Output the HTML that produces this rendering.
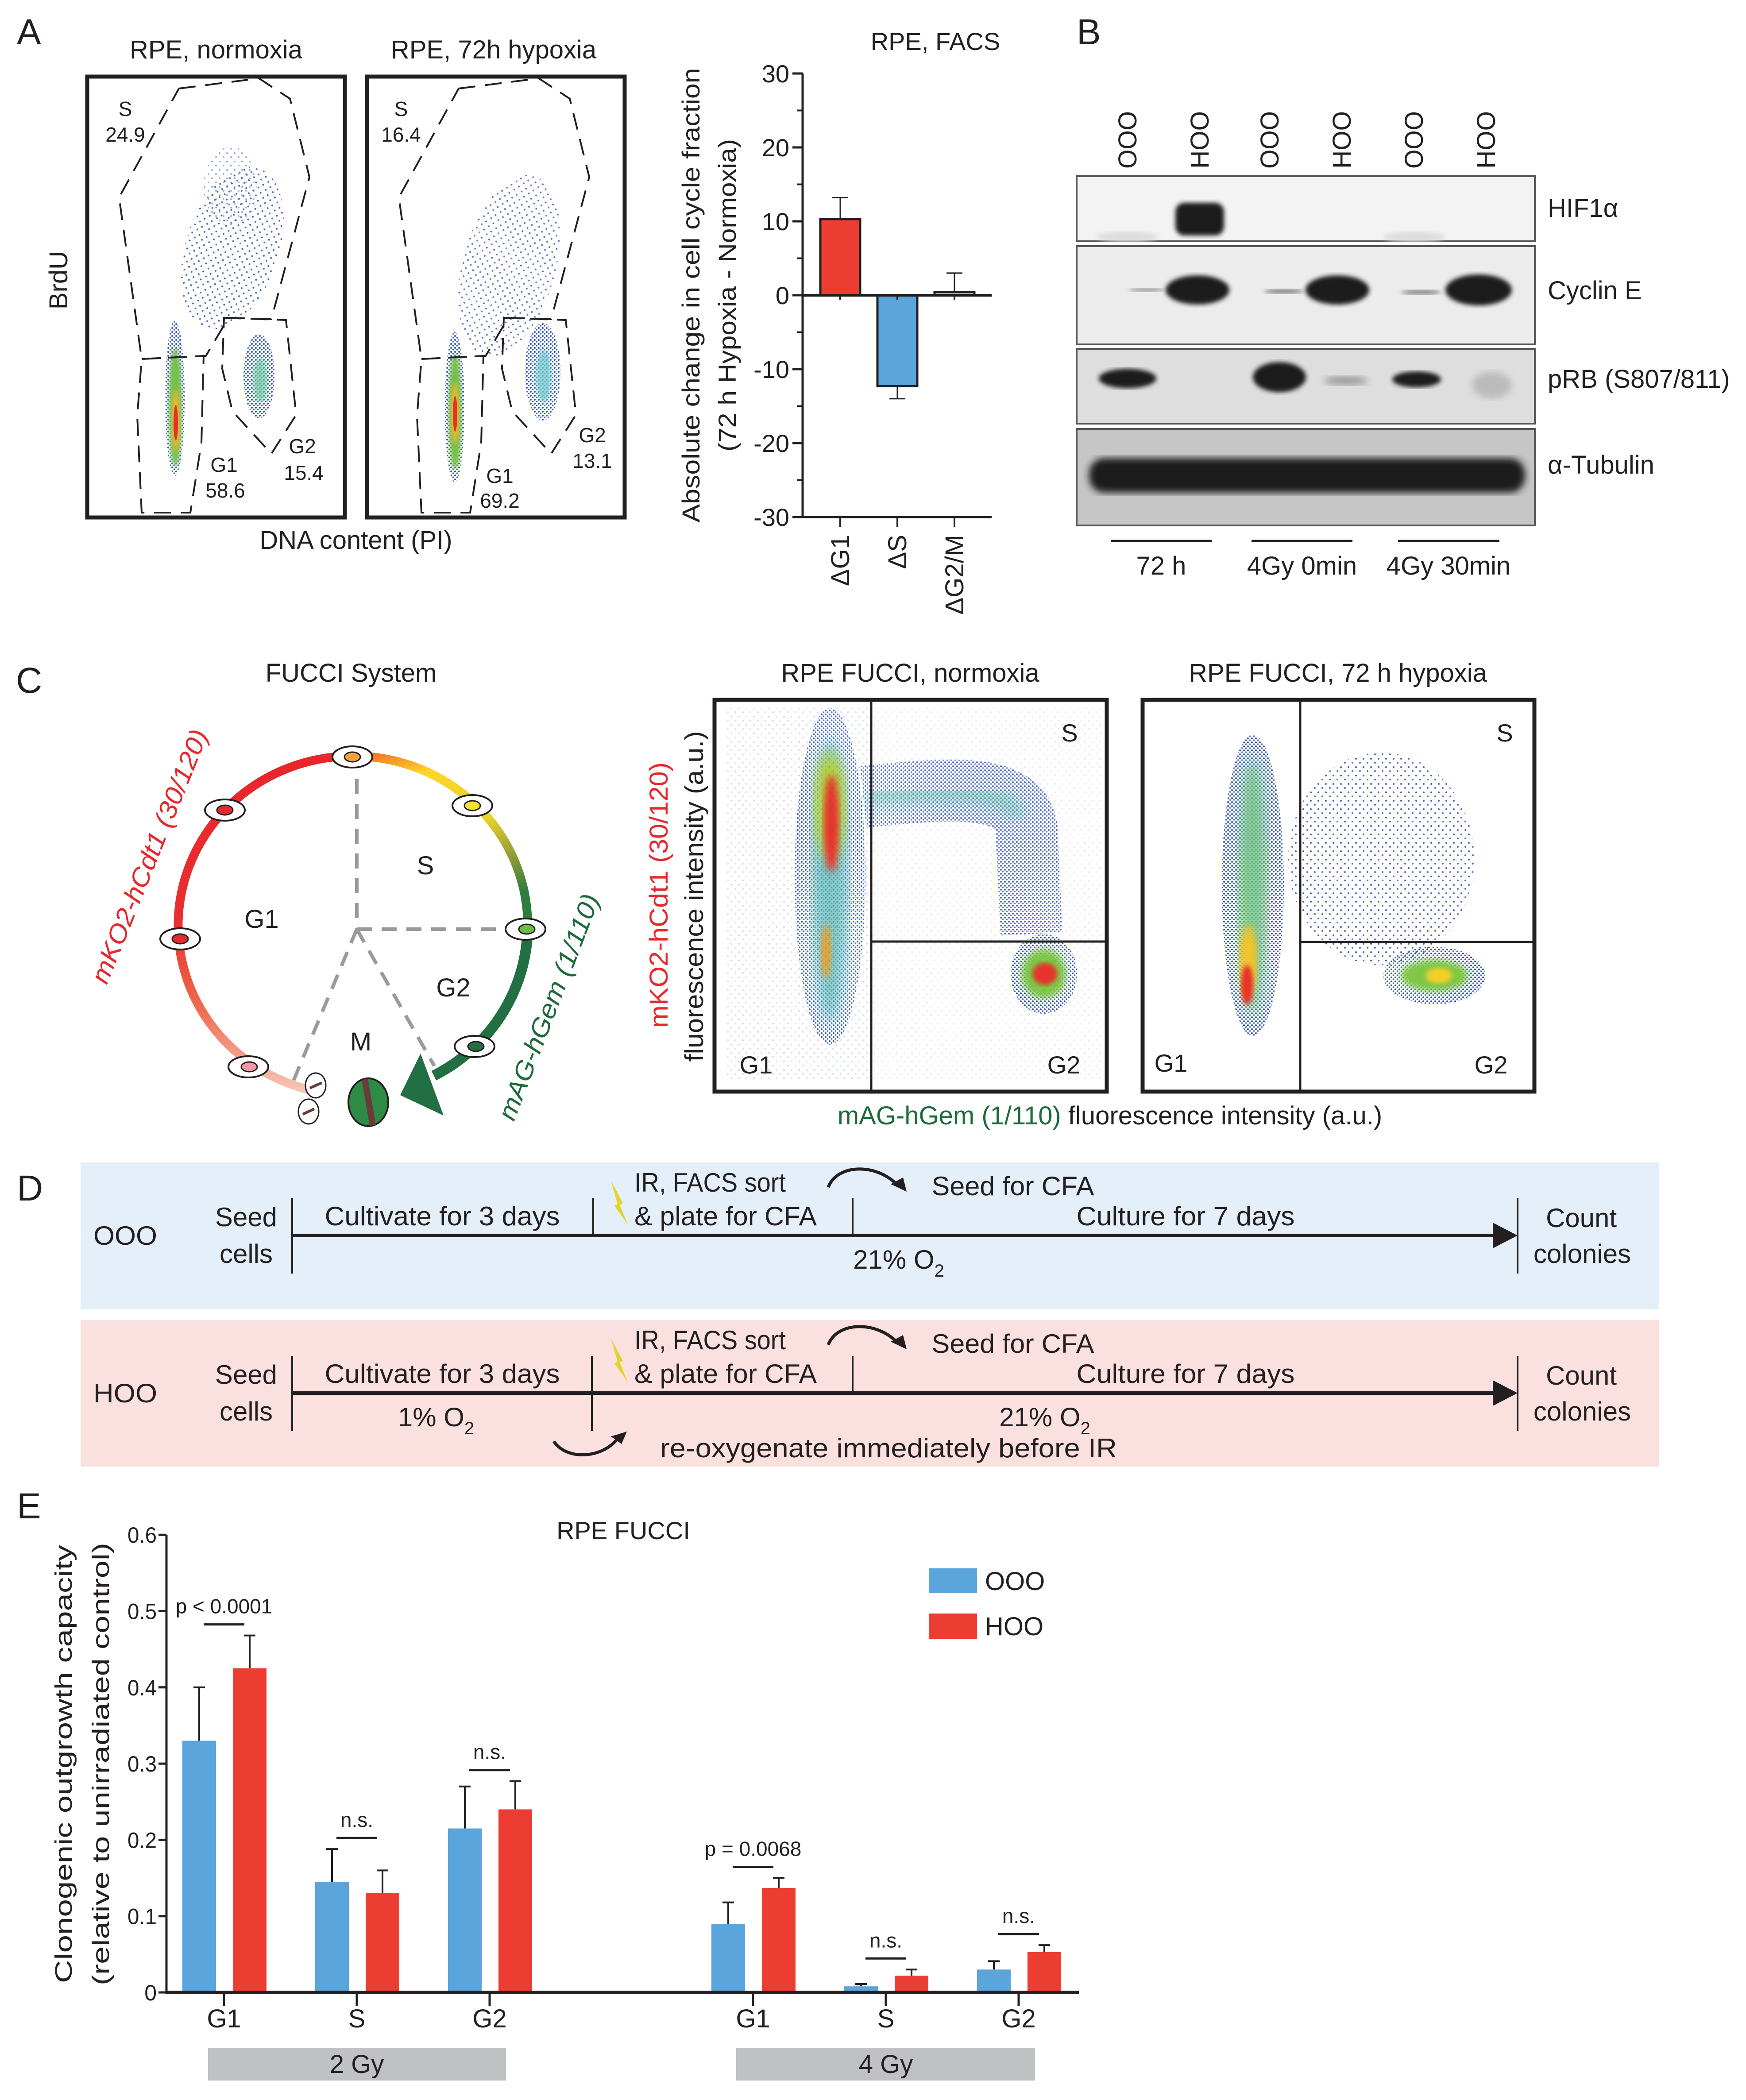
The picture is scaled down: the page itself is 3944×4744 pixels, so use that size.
<!DOCTYPE html>
<html><head><meta charset="utf-8"><title>Figure</title>
<style>
html,body{margin:0;padding:0;background:#fff;}
svg{display:block;font-family:"Liberation Sans",sans-serif;}
text{fill:#231f20;}
</style></head>
<body>
<svg id="fig" width="3944" height="4744" viewBox="0 0 3944 4744" xmlns="http://www.w3.org/2000/svg">
<defs>
<pattern id="dots" width="9" height="9" patternUnits="userSpaceOnUse"><circle cx="2" cy="3" r="2" fill="#2e4fae"/><circle cx="6.5" cy="7" r="1.8" fill="#3a5fc0"/></pattern>
<pattern id="sparse" width="17" height="19" patternUnits="userSpaceOnUse"><circle cx="3" cy="4" r="2" fill="#2e4fae"/><circle cx="12" cy="13" r="2" fill="#3a5fc0"/></pattern>
<filter id="b8"><feGaussianBlur stdDeviation="8"/></filter>
<filter id="b15"><feGaussianBlur stdDeviation="15"/></filter>
<filter id="b5"><feGaussianBlur stdDeviation="5"/></filter>
<linearGradient id="gRed" x1="0" y1="1" x2="0" y2="0"><stop offset="0" stop-color="#f6c6b6"/><stop offset="0.25" stop-color="#ef6a4e"/><stop offset="0.5" stop-color="#e8302f"/><stop offset="1" stop-color="#e8262b"/></linearGradient>
<linearGradient id="gYel" x1="0" y1="0" x2="0.3" y2="1"><stop offset="0" stop-color="#f26a2a"/><stop offset="0.2" stop-color="#fcd626"/><stop offset="0.55" stop-color="#e6d22c"/><stop offset="0.8" stop-color="#8c9a3a"/><stop offset="1" stop-color="#2f7d3c"/></linearGradient>
</defs>
<rect x="0" y="0" width="3944" height="4744" fill="#fff"/>

<!-- ================= Panel A scatter ================= -->
<text x="38" y="100" font-size="82">A</text>
<text x="488" y="132" font-size="58" text-anchor="middle">RPE, normoxia</text>
<text x="1115" y="132" font-size="58" text-anchor="middle">RPE, 72h hypoxia</text>
<text transform="translate(152,633) rotate(-90)" font-size="58" text-anchor="middle">BrdU</text>
<text x="804" y="1240" font-size="58" text-anchor="middle">DNA content (PI)</text>

<g>
  <ellipse cx="525" cy="560" rx="105" ry="190" transform="rotate(18 525 560)" fill="url(#sparse)" opacity="0.9"/>
  <ellipse cx="520" cy="420" rx="60" ry="90" fill="url(#sparse)" opacity="0.5"/>
  <ellipse cx="395" cy="900" rx="22" ry="175" fill="url(#dots)"/>
  <ellipse cx="396" cy="920" rx="15" ry="135" fill="#74c04a" filter="url(#b5)"/>
  <ellipse cx="397" cy="950" rx="9" ry="70" fill="#f0b82a" filter="url(#b5)"/>
  <ellipse cx="397" cy="955" rx="5" ry="40" fill="#e8302a"/>
  <ellipse cx="585" cy="850" rx="35" ry="95" fill="url(#dots)"/>
  <ellipse cx="588" cy="860" rx="16" ry="50" fill="#6cc7a8" opacity="0.7" filter="url(#b5)"/>
  <g fill="none" stroke="#231f20" stroke-width="4" stroke-dasharray="38,22">
    <polygon points="404,200 585,177 655,223 699,400 613,721 516,718 465,804 320,811 269,446"/>
    <polygon points="320,811 460,804 455,1000 430,1158 320,1158 310,940"/>
    <polygon points="506,718 646,723 669,937 613,1025 525,929 502,833"/>
  </g>
  <rect x="197" y="173" width="582" height="996" fill="none" stroke="#231f20" stroke-width="9"/>
  <g font-size="46" text-anchor="middle">
    <text x="283" y="262">S</text><text x="283" y="320">24.9</text>
    <text x="506" y="1066">G1</text><text x="509" y="1124">58.6</text>
    <text x="683" y="1024">G2</text><text x="686" y="1084">15.4</text>
  </g>
</g>
<g>
  <ellipse cx="1150" cy="600" rx="105" ry="210" transform="rotate(15 1150 600)" fill="url(#sparse)" opacity="0.8"/>
  <ellipse cx="1027" cy="920" rx="22" ry="170" fill="url(#dots)"/>
  <ellipse cx="1028" cy="930" rx="15" ry="130" fill="#74c04a" filter="url(#b5)"/>
  <ellipse cx="1028" cy="935" rx="9" ry="70" fill="#f0b82a" filter="url(#b5)"/>
  <ellipse cx="1028" cy="935" rx="5" ry="40" fill="#e8302a"/>
  <ellipse cx="1226" cy="840" rx="40" ry="110" fill="url(#dots)"/>
  <ellipse cx="1228" cy="850" rx="18" ry="60" fill="#6cc7d8" opacity="0.7" filter="url(#b5)"/>
  <g fill="none" stroke="#231f20" stroke-width="4" stroke-dasharray="38,22" transform="translate(632,0)">
    <polygon points="404,200 585,177 655,223 699,400 613,721 516,718 465,804 320,811 269,446"/>
    <polygon points="320,811 460,804 455,1000 430,1158 320,1158 310,940"/>
    <polygon points="506,718 646,723 669,937 613,1025 525,929 502,833"/>
  </g>
  <rect x="829" y="173" width="582" height="996" fill="none" stroke="#231f20" stroke-width="9"/>
  <g font-size="46" text-anchor="middle">
    <text x="906" y="262">S</text><text x="906" y="320">16.4</text>
    <text x="1129" y="1091">G1</text><text x="1129" y="1147">69.2</text>
    <text x="1338" y="999">G2</text><text x="1338" y="1057">13.1</text>
  </g>
</g>

<!-- ================= Panel A bar chart ================= -->
<g id="barA"></g>
<text x="2113" y="113" font-size="56" text-anchor="middle">RPE, FACS</text>
<text transform="translate(1580,667) rotate(-90)" font-size="56" text-anchor="middle" textLength="1027" lengthAdjust="spacingAndGlyphs">Absolute change in cell cycle fraction</text>
<text transform="translate(1662,667) rotate(-90)" font-size="56" text-anchor="middle" textLength="706" lengthAdjust="spacingAndGlyphs">(72 h Hypoxia - Normoxia)</text>

<!-- ================= Panel B blot ================= -->
<text x="2432" y="100" font-size="82">B</text>
<g font-size="58">
  <text transform="translate(2567,381) rotate(-90)" textLength="130" lengthAdjust="spacingAndGlyphs">OOO</text>
  <text transform="translate(2730,381) rotate(-90)" textLength="130" lengthAdjust="spacingAndGlyphs">HOO</text>
  <text transform="translate(2888,381) rotate(-90)" textLength="130" lengthAdjust="spacingAndGlyphs">OOO</text>
  <text transform="translate(3051,381) rotate(-90)" textLength="130" lengthAdjust="spacingAndGlyphs">HOO</text>
  <text transform="translate(3214,381) rotate(-90)" textLength="130" lengthAdjust="spacingAndGlyphs">OOO</text>
  <text transform="translate(3377,381) rotate(-90)" textLength="130" lengthAdjust="spacingAndGlyphs">HOO</text>
</g>
<g>
  <rect x="2432" y="398" width="1035" height="147" fill="#f3f3f3" stroke="#555" stroke-width="4"/>
  <rect x="2655" y="458" width="110" height="74" rx="20" fill="#1e1e1e" filter="url(#b5)"/>
  <ellipse cx="2547" cy="535" rx="70" ry="12" fill="#ddd" filter="url(#b5)"/>
  <ellipse cx="3194" cy="535" rx="70" ry="12" fill="#ddd" filter="url(#b5)"/>
</g>
<g>
  <rect x="2432" y="556" width="1035" height="222" fill="#ececec" stroke="#555" stroke-width="4"/>
  <ellipse cx="2705" cy="655" rx="72" ry="33" fill="#1c1c1c" filter="url(#b5)"/>
  <ellipse cx="3021" cy="655" rx="72" ry="33" fill="#1c1c1c" filter="url(#b5)"/>
  <ellipse cx="3340" cy="655" rx="75" ry="35" fill="#1c1c1c" filter="url(#b5)"/>
  <ellipse cx="2590" cy="655" rx="40" ry="4" fill="#888" filter="url(#b5)"/>
  <ellipse cx="2900" cy="658" rx="45" ry="5" fill="#777" filter="url(#b5)"/>
  <ellipse cx="3210" cy="660" rx="45" ry="5" fill="#777" filter="url(#b5)"/>
</g>
<g>
  <rect x="2432" y="788" width="1035" height="169" fill="#dedede" stroke="#555" stroke-width="4"/>
  <ellipse cx="2547" cy="855" rx="65" ry="22" fill="#1e1e1e" filter="url(#b5)"/>
  <ellipse cx="2890" cy="852" rx="60" ry="34" fill="#1e1e1e" filter="url(#b5)"/>
  <ellipse cx="3200" cy="857" rx="55" ry="18" fill="#1e1e1e" filter="url(#b5)"/>
  <ellipse cx="3040" cy="860" rx="50" ry="10" fill="#999" filter="url(#b8)"/>
  <ellipse cx="3370" cy="870" rx="45" ry="30" fill="#bbb" filter="url(#b8)"/>
</g>
<g>
  <rect x="2432" y="969" width="1035" height="218" fill="#c6c6c6" stroke="#555" stroke-width="4"/>
  <rect x="2460" y="1035" width="985" height="78" rx="35" fill="#1c1c1c" filter="url(#b8)"/>
</g>
<g font-size="58">
  <text x="3496" y="490">HIF1α</text>
  <text x="3496" y="676">Cyclin E</text>
  <text x="3496" y="876">pRB (S807/811)</text>
  <text x="3496" y="1070">α-Tubulin</text>
</g>
<g>
  <g stroke="#231f20" stroke-width="5"><line x1="2509" y1="1222" x2="2737" y2="1222"/><line x1="2827" y1="1222" x2="3055" y2="1222"/><line x1="3158" y1="1222" x2="3387" y2="1222"/></g>
  <g font-size="58" text-anchor="middle"><text x="2623" y="1298">72 h</text><text x="2941" y="1298">4Gy 0min</text><text x="3272" y="1298">4Gy 30min</text></g>
</g>

<!-- ================= Panel C ================= -->
<text x="36" y="1565" font-size="82">C</text>
<text x="793" y="1540" font-size="58" text-anchor="middle">FUCCI System</text>
<g>
  <g stroke="#9a9a9a" stroke-width="8" stroke-dasharray="34,22" fill="none">
    <line x1="806" y1="1760" x2="806" y2="2099"/>
    <line x1="806" y1="2099" x2="1130" y2="2099"/>
    <line x1="806" y1="2099" x2="663" y2="2441"/>
    <line x1="806" y1="2099" x2="981" y2="2408"/>
  </g>
  <path d="M 707 2464 A 394 383 0 0 1 798 1708" fill="none" stroke="url(#gRed)" stroke-width="20"/>
  <path d="M 798 1708 A 394 383 0 0 1 1192 2091" fill="none" stroke="url(#gYel)" stroke-width="20"/>
  <path d="M 1192 2091 A 394 383 0 0 1 980 2430" fill="none" stroke="#226f43" stroke-width="24"/>
  <polygon points="904,2474 950,2380 1002,2520" fill="#226f43"/>
  <g stroke="#231f20" stroke-width="4" fill="#fff">
    <ellipse cx="796" cy="1710" rx="45" ry="24"/><ellipse cx="1067" cy="1820" rx="45" ry="24"/>
    <ellipse cx="1187" cy="2099" rx="45" ry="24"/><ellipse cx="1072" cy="2364" rx="45" ry="24"/>
    <ellipse cx="508" cy="1830" rx="45" ry="24"/><ellipse cx="407" cy="2121" rx="45" ry="24"/>
    <ellipse cx="561" cy="2410" rx="45" ry="24"/>
  </g>
  <g stroke="#231f20" stroke-width="3">
    <ellipse cx="796" cy="1710" rx="18" ry="11" fill="#f3a23a"/><ellipse cx="1067" cy="1820" rx="18" ry="11" fill="#f4e52a"/>
    <ellipse cx="1190" cy="2099" rx="18" ry="11" fill="#6cbd45"/><ellipse cx="1075" cy="2364" rx="18" ry="11" fill="#226f43"/>
    <ellipse cx="508" cy="1830" rx="18" ry="11" fill="#e32b2f"/><ellipse cx="407" cy="2121" rx="18" ry="11" fill="#e32b2f"/>
    <ellipse cx="563" cy="2410" rx="18" ry="11" fill="#f29aa3"/>
  </g>
  <g stroke="#231f20" stroke-width="3" fill="#fff">
    <ellipse cx="713" cy="2452" rx="23" ry="28"/><ellipse cx="697" cy="2511" rx="23" ry="28"/>
  </g>
  <g stroke="#6b3a3a" stroke-width="6"><line x1="700" y1="2458" x2="727" y2="2446"/><line x1="684" y1="2517" x2="710" y2="2505"/></g>
  <ellipse cx="832" cy="2490" rx="45" ry="54" fill="#2e8b45" stroke="#231f20" stroke-width="4"/>
  <line x1="824" y1="2438" x2="842" y2="2542" stroke="#6b3a3a" stroke-width="14"/>
  <g font-size="58" text-anchor="middle"><text x="961" y="1975">S</text><text x="591" y="2096">G1</text><text x="1024" y="2251">G2</text><text x="815" y="2373">M</text></g>
  <text transform="translate(356,1942) rotate(-68)" font-size="58" font-style="italic" text-anchor="middle" textLength="613" lengthAdjust="spacingAndGlyphs" style="fill:#e8262b">mKO2-hCdt1 (30/120)</text>
  <text transform="translate(1258,2282) rotate(-69)" font-size="58" font-style="italic" text-anchor="middle" textLength="542" lengthAdjust="spacingAndGlyphs" style="fill:#1e6b3a">mAG-hGem (1/110)</text>
</g>

<text x="2056" y="1540" font-size="58" text-anchor="middle">RPE FUCCI, normoxia</text>
<text x="3022" y="1540" font-size="58" text-anchor="middle">RPE FUCCI, 72 h hypoxia</text>
<g>
  <ellipse cx="1875" cy="1980" rx="80" ry="380" fill="url(#dots)" opacity="0.95"/>
  <ellipse cx="1875" cy="1990" rx="40" ry="320" fill="#57b9b0" opacity="0.7" filter="url(#b15)"/>
  <ellipse cx="1875" cy="1820" rx="35" ry="120" fill="#b7d43a" filter="url(#b15)"/>
  <ellipse cx="1878" cy="1860" rx="18" ry="110" fill="#e8332a" filter="url(#b8)"/>
  <ellipse cx="1866" cy="2150" rx="12" ry="60" fill="#e9a22a" filter="url(#b8)"/>
  <path d="M 1950 1800 C 2150 1780 2330 1760 2320 1900 L 2330 2110" fill="none" stroke="url(#dots)" stroke-width="140" opacity="0.85"/>
  <path d="M 1960 1800 C 2150 1790 2290 1780 2300 1850" fill="none" stroke="#5ec2a0" stroke-width="40" opacity="0.5" filter="url(#b15)"/>
  <ellipse cx="2358" cy="2200" rx="75" ry="90" fill="url(#dots)"/>
  <ellipse cx="2358" cy="2200" rx="50" ry="55" fill="#7ec845" filter="url(#b8)"/>
  <ellipse cx="2360" cy="2200" rx="28" ry="25" fill="#e8332a" filter="url(#b5)"/>
  <rect x="1640" y="1600" width="320" height="840" fill="url(#sparse)" opacity="0.2"/>
  <rect x="1970" y="1600" width="520" height="840" fill="url(#sparse)" opacity="0.12"/>
  <line x1="1968" y1="1581" x2="1968" y2="2466" stroke="#231f20" stroke-width="5"/>
  <line x1="1968" y1="2127" x2="2500" y2="2127" stroke="#231f20" stroke-width="5"/>
  <rect x="1614" y="1581" width="886" height="885" fill="none" stroke="#231f20" stroke-width="9"/>
  <g font-size="56" text-anchor="middle"><text x="2416" y="1675">S</text><text x="1708" y="2425">G1</text><text x="2403" y="2425">G2</text></g>
</g>
<g>
  <ellipse cx="3120" cy="1940" rx="210" ry="240" fill="url(#sparse)" opacity="0.9"/>
  <ellipse cx="2830" cy="2000" rx="70" ry="340" fill="url(#dots)"/>
  <ellipse cx="2830" cy="2000" rx="32" ry="290" fill="#6dc47a" opacity="0.8" filter="url(#b15)"/>
  <ellipse cx="2820" cy="2170" rx="20" ry="80" fill="#f2c42a" filter="url(#b8)"/>
  <ellipse cx="2817" cy="2225" rx="14" ry="45" fill="#e8302a" filter="url(#b5)"/>
  <ellipse cx="3240" cy="2204" rx="115" ry="65" fill="url(#dots)"/>
  <ellipse cx="3240" cy="2204" rx="75" ry="36" fill="#7ec845" filter="url(#b8)"/>
  <ellipse cx="3250" cy="2204" rx="30" ry="18" fill="#f2d02a" filter="url(#b5)"/>
  <line x1="2937" y1="1581" x2="2937" y2="2466" stroke="#231f20" stroke-width="5"/>
  <line x1="2937" y1="2128" x2="3466" y2="2128" stroke="#231f20" stroke-width="5"/>
  <rect x="2581" y="1581" width="885" height="885" fill="none" stroke="#231f20" stroke-width="9"/>
  <g font-size="56" text-anchor="middle"><text x="3399" y="1675">S</text><text x="2645" y="2421">G1</text><text x="3368" y="2425">G2</text></g>
</g>
<text transform="translate(1508,2022) rotate(-90)" font-size="58" text-anchor="middle" textLength="600" lengthAdjust="spacingAndGlyphs" style="fill:#e8262b">mKO2-hCdt1 (30/120)</text>
<text transform="translate(1588,2025) rotate(-90)" font-size="58" text-anchor="middle" textLength="747" lengthAdjust="spacingAndGlyphs">fluorescence intensity (a.u.)</text>
<text x="2507" y="2540" font-size="58" text-anchor="middle"><tspan style="fill:#1e6b3a">mAG-hGem (1/110)</tspan> fluorescence intensity (a.u.)</text>

<!-- ================= Panel D ================= -->
<text x="38" y="2712" font-size="82">D</text>
<g>
  <rect x="182" y="2626" width="3565" height="332" fill="#e4eff9"/>
  <line x1="660" y1="2791" x2="3380" y2="2791" stroke="#231f20" stroke-width="8"/>
  <polygon points="3428,2791 3372,2762 3372,2820" fill="#231f20"/>
  <g stroke="#231f20" stroke-width="4"><line x1="660" y1="2707" x2="660" y2="2877"/><line x1="1340" y1="2707" x2="1340" y2="2791"/><line x1="1926" y1="2707" x2="1926" y2="2791"/><line x1="3428" y1="2707" x2="3428" y2="2877"/></g>
  <polygon points="1380,2667 1395,2720 1388,2724 1418,2766 1400,2722 1407,2718" fill="#e6d22c"/>
  <path d="M 1871 2682 C 1890 2630 1980 2625 2030 2680" fill="none" stroke="#231f20" stroke-width="7"/>
  <polygon points="2048,2692 2012,2675 2040,2660" fill="#231f20"/>
  <g font-size="60" text-anchor="middle">
    <text x="283" y="2812" textLength="144" lengthAdjust="spacingAndGlyphs">OOO</text>
    <text x="556" y="2770">Seed</text><text x="556" y="2853">cells</text>
    <text x="999" y="2768" textLength="531" lengthAdjust="spacingAndGlyphs">Cultivate for 3 days</text>
    <text x="1604" y="2692" textLength="342" lengthAdjust="spacingAndGlyphs">IR, FACS sort</text>
    <text x="1639" y="2768" textLength="412" lengthAdjust="spacingAndGlyphs">&amp; plate for CFA</text>
    <text x="2288" y="2700" textLength="367" lengthAdjust="spacingAndGlyphs">Seed for CFA</text>
    <text x="2678" y="2768" textLength="493" lengthAdjust="spacingAndGlyphs">Culture for 7 days</text>
    <text x="2030" y="2866">21% O<tspan font-size="40" dy="18">2</tspan></text>
    <text x="3572" y="2772">Count</text><text x="3574" y="2853">colonies</text>
  </g>
</g>
<g>
  <rect x="182" y="2982" width="3565" height="331" fill="#fbe0e0"/>
  <line x1="660" y1="3147" x2="3380" y2="3147" stroke="#231f20" stroke-width="8"/>
  <polygon points="3428,3147 3372,3118 3372,3176" fill="#231f20"/>
  <g stroke="#231f20" stroke-width="4"><line x1="660" y1="3063" x2="660" y2="3233"/><line x1="1337" y1="3063" x2="1337" y2="3233"/><line x1="1926" y1="3063" x2="1926" y2="3147"/><line x1="3428" y1="3063" x2="3428" y2="3233"/></g>
  <polygon points="1380,3023 1395,3076 1388,3080 1418,3122 1400,3078 1407,3074" fill="#e6d22c"/>
  <path d="M 1871 3038 C 1890 2986 1980 2981 2030 3036" fill="none" stroke="#231f20" stroke-width="7"/>
  <polygon points="2048,3048 2012,3031 2040,3016" fill="#231f20"/>
  <path d="M 1251 3256 C 1280 3300 1360 3295 1395 3250" fill="none" stroke="#231f20" stroke-width="7"/>
  <polygon points="1416,3234 1380,3245 1404,3262" fill="#231f20"/>
  <g font-size="60" text-anchor="middle">
    <text x="283" y="3168" textLength="144" lengthAdjust="spacingAndGlyphs">HOO</text>
    <text x="556" y="3126">Seed</text><text x="556" y="3209">cells</text>
    <text x="999" y="3124" textLength="531" lengthAdjust="spacingAndGlyphs">Cultivate for 3 days</text>
    <text x="1604" y="3048" textLength="342" lengthAdjust="spacingAndGlyphs">IR, FACS sort</text>
    <text x="1639" y="3124" textLength="412" lengthAdjust="spacingAndGlyphs">&amp; plate for CFA</text>
    <text x="2288" y="3056" textLength="367" lengthAdjust="spacingAndGlyphs">Seed for CFA</text>
    <text x="2678" y="3124" textLength="493" lengthAdjust="spacingAndGlyphs">Culture for 7 days</text>
    <text x="985" y="3222">1% O<tspan font-size="40" dy="18">2</tspan></text>
    <text x="2360" y="3222">21% O<tspan font-size="40" dy="18">2</tspan></text>
    <text x="2007" y="3292" textLength="1032" lengthAdjust="spacingAndGlyphs">re-oxygenate immediately before IR</text>
    <text x="3572" y="3128">Count</text><text x="3574" y="3209">colonies</text>
  </g>
</g>

<!-- ================= Panel E ================= -->
<text x="38" y="3430" font-size="82">E</text>
<text x="1408" y="3477" font-size="56" text-anchor="middle">RPE FUCCI</text>
<text transform="translate(162,3985) rotate(-90)" font-size="54" text-anchor="middle" textLength="990" lengthAdjust="spacingAndGlyphs">Clonogenic outgrowth capacity</text>
<text transform="translate(246,3985) rotate(-90)" font-size="54" text-anchor="middle" textLength="1000" lengthAdjust="spacingAndGlyphs">(relative to unirradiated control)</text>
<g>
  <rect x="2098" y="3543" width="109" height="56" fill="#5aa5dc"/>
  <text x="2225" y="3592" font-size="58">OOO</text>
  <rect x="2098" y="3645" width="109" height="57" fill="#ec3d33"/>
  <text x="2225" y="3694" font-size="58">HOO</text>
</g>
<g id="barE"></g>
<g>
  <rect x="470" y="4626" width="673" height="74" fill="#c0c1c3"/>
  <text x="806" y="4683" font-size="58" text-anchor="middle">2 Gy</text>
  <rect x="1663" y="4626" width="675" height="74" fill="#c0c1c3"/>
  <text x="2001" y="4683" font-size="58" text-anchor="middle">4 Gy</text>
</g>
</svg>

<script>
// ---- Panel A bar chart data ----
const aCategories = ['ΔG1', 'ΔS', 'ΔG2/M'];
const aValues = [10.3, -12.3, 0.4];
const aErrors = [2.9, 1.7, 2.6];
const aTicks = [-30, -20, -10, 0, 10, 20, 30];

// ---- Panel E bar chart data ----
const eCategories = ['G1', 'S', 'G2', 'G1', 'S', 'G2'];
const eOOO = [0.33, 0.145, 0.215, 0.09, 0.008, 0.03];
const eHOO = [0.425, 0.13, 0.24, 0.137, 0.022, 0.053];
const eOOOErr = [0.07, 0.043, 0.055, 0.028, 0.003, 0.011];
const eHOOErr = [0.043, 0.03, 0.037, 0.013, 0.008, 0.009];
const eSigLabels = ['p < 0.0001', 'n.s.', 'n.s.', 'p = 0.0068', 'n.s.', 'n.s.'];
const eTicks = [0, 0.1, 0.2, 0.3, 0.4, 0.5, 0.6];
const eTickLabels = ['0', '0.1', '0.2', '0.3', '0.4', '0.5', '0.6'];

const NS = 'http://www.w3.org/2000/svg';
function mk(tag, attrs, parent) {
  const el = document.createElementNS(NS, tag);
  for (const k in attrs) el.setAttribute(k, attrs[k]);
  parent.appendChild(el);
  return el;
}

// Panel A
(function () {
  const g = document.getElementById('barA');
  const y = v => 667 - v * 16.7;
  const x = i => 1898 + i * 129;
  const colors = ['#ec3d33', '#5aa5dc', '#ffffff'];
  const ax = mk('line', {x1: 1813, y1: y(30), x2: 1813, y2: y(-30), stroke: '#231f20', 'stroke-width': 5}, g);
  
  
  aTicks.forEach(t => {
    mk('line', {x1: 1790, y1: y(t), x2: 1813, y2: y(t), stroke: '#231f20', 'stroke-width': 5}, g);
    const tl = mk('text', {x: 1783, y: y(t) + 20, 'font-size': 56, 'text-anchor': 'end'}, g);
    tl.textContent = t;
    
    
  });
  for (let v = -25; v <= 25; v += 10) mk('line', {x1: 1800, y1: y(v), x2: 1813, y2: y(v), stroke: '#231f20', 'stroke-width': 4}, g);
  aValues.forEach((v, i) => {
    const top = Math.min(y(0), y(v)), h = Math.abs(y(v) - y(0));
    const e = v >= 0 ? y(v + aErrors[i]) : y(v - aErrors[i]);
    mk('line', {x1: x(i), y1: y(v), x2: x(i), y2: e, stroke: '#231f20', 'stroke-width': 3}, g);
    mk('line', {x1: x(i) - 18, y1: e, x2: x(i) + 18, y2: e, stroke: '#231f20', 'stroke-width': 3}, g);
    const b = mk('rect', {x: x(i) - 45, y: top, width: 90, height: Math.max(h, 3), fill: colors[i], stroke: '#231f20', 'stroke-width': 5}, g);
    
    
    mk('line', {x1: x(i), y1: y(0), x2: x(i), y2: y(0) + 10, stroke: '#231f20', 'stroke-width': 4}, g);
    mk('line', {x1: x(i), y1: y(-30), x2: x(i), y2: y(-30) + 22, stroke: '#231f20', 'stroke-width': 4}, g);
    const cl = mk('text', {transform: 'translate(' + (x(i) + 20) + ',1208) rotate(-90)', 'font-size': 58, 'text-anchor': 'end'}, g);
    cl.textContent = aCategories[i];
    
    
  });
  const zl = mk('line', {x1: 1813, y1: y(0), x2: 2240, y2: y(0), stroke: '#231f20', 'stroke-width': 6}, g);
  
  
  mk('line', {x1: 1813, y1: y(-30), x2: 2240, y2: y(-30), stroke: '#231f20', 'stroke-width': 5}, g);
})();

// Panel E
(function () {
  const g = document.getElementById('barE');
  const y = v => 4501 - v * 1723;
  const xc = i => 506 + i * 300 + (i >= 3 ? 295 : 0);
  const bw = 76;
  const ax = mk('line', {x1: 376, y1: y(0.6), x2: 376, y2: y(0) + 4, stroke: '#231f20', 'stroke-width': 5}, g);
  
  
  eTicks.forEach((t, k) => {
    mk('line', {x1: 358, y1: y(t), x2: 376, y2: y(t), stroke: '#231f20', 'stroke-width': 5}, g);
    const attrs = {x: 354, y: y(t) + 18, 'font-size': 50, 'text-anchor': 'end'};
    if (eTickLabels[k].length > 1) { attrs.textLength = 66; attrs.lengthAdjust = 'spacingAndGlyphs'; }
    const tl = mk('text', attrs, g);
    tl.textContent = eTickLabels[k];
    
    
  });
  function bar(cx, v, err, color, name) {
    mk('line', {x1: cx, y1: y(v), x2: cx, y2: y(v + err), stroke: '#231f20', 'stroke-width': 4}, g);
    mk('line', {x1: cx - 13, y1: y(v + err), x2: cx + 13, y2: y(v + err), stroke: '#231f20', 'stroke-width': 4}, g);
    const r = mk('rect', {x: cx - bw / 2, y: y(v), width: bw, height: y(0) - y(v), fill: color}, g);
    
    
  }
  eCategories.forEach((c, i) => {
    bar(xc(i) - 56, eOOO[i], eOOOErr[i], '#5aa5dc', 'bar-ooo-' + i);
    bar(xc(i) + 58, eHOO[i], eHOOErr[i], '#ec3d33', 'bar-hoo-' + i);
    mk('line', {x1: xc(i), y1: y(0), x2: xc(i), y2: y(0) + 30, stroke: '#231f20', 'stroke-width': 5}, g);
    const cl = mk('text', {x: xc(i), y: 4580, 'font-size': 58, 'text-anchor': 'middle'}, g);
    cl.textContent = c;
    
    
    const topV = Math.max(eOOO[i] + eOOOErr[i], eHOO[i] + eHOOErr[i]);
    const ly = y(topV) - 25;
    const sl = mk('line', {x1: xc(i) - 46, y1: ly, x2: xc(i) + 46, y2: ly, stroke: '#231f20', 'stroke-width': 5}, g);
    
    
    const st = mk('text', {x: xc(i), y: ly - 25, 'font-size': 46, 'text-anchor': 'middle'}, g);
    st.textContent = eSigLabels[i];
    
    
  });
  const xa = mk('line', {x1: 374, y1: y(0), x2: 2437, y2: y(0), stroke: '#231f20', 'stroke-width': 8}, g);
  
  
})();
</script>
</body></html>
